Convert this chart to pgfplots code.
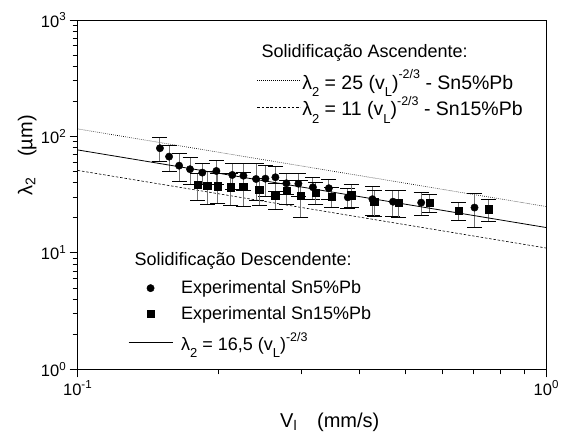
\documentclass[border=0pt]{standalone}
\usepackage{pgfplots}
\pgfplotsset{compat=1.18}
\usepackage{pgfplotstable}
\usepackage{fontspec}
\setmainfont{Liberation Sans}

\newcommand{\sub}[1]{\raisebox{-0.38em}{\fontsize{13}{13}\selectfont #1}}
\newcommand{\sups}[1]{\raisebox{0.52em}{\fontsize{12.5}{13}\selectfont #1}}

\pgfplotstableread{
x y e
0.1498 79.2 18
0.1567 67.1 17
0.1646 56.1 15
0.1737 52.3 14
0.1845 48.9 10
0.1977 50.5 12
0.2138 46.7 12
0.2258 46.0 12
0.2402 43.1 15
0.2515 43.4 13
0.2642 44.6 11
0.2789 39.6 8
0.2958 39.3 9
0.3177 36.6 8
0.3436 35.9 7
0.3772 30.0 6
0.4256 28.9 8
0.4708 27.5 7
0.5408 27.0 6
0.7029 24.5 8
}\snfive

\pgfplotstableread{
x y e
0.1804 38.3 10
0.1889 37.8 12
0.1991 37.3 11
0.2122 36.6 11
0.2254 36.9 12
0.2438 34.7 9
0.2638 31.4 8
0.2795 34.2 8
0.2994 31.0 11
0.3224 32.9 7
0.3486 30.4 6
0.3835 31.4 7
0.4292 27.4 7
0.4838 27.0 7
0.5646 27.0 5
0.6498 22.9 4
0.7528 23.7 5
}\snfifteen

\begin{document}
\begin{tikzpicture}
\path[use as bounding box] (-77.7pt,-64.7pt) rectangle (488.3pt,369.3pt);
% Ascending lines with their legend
\begin{axis}[at={(0pt,0pt)}, anchor=south west,
  scale only axis, width=468.6pt, height=349.3pt,
  xmode=log, ymode=log,
  xmin=0.1, xmax=1, ymin=1, ymax=1000,
  hide axis,
  legend style={draw=none, fill=none, at={(0.3826,0.862)}, anchor=north west,
    font=\fontsize{19.5}{22}\selectfont, inner xsep=0pt, inner ysep=0pt,
    row sep=3pt, nodes={inner sep=1.5pt}},
  legend cell align=left,
  legend image code/.code={\draw[#1] (0pt,0pt) -- (43pt,0pt);},
]
\addplot[black, line width=0.6pt, dash pattern=on 0.7pt off 1.3pt] coordinates {(0.1,116.04) (1,25)};
\addlegendentry{λ\sub{2} = 25 (v\sub{L})\sups{-2/3} - Sn5\%Pb}
\addplot[black, line width=0.6pt, dash pattern=on 2.5pt off 1.8pt] coordinates {(0.1,51.06) (1,11)};
\addlegendentry{λ\sub{2} = 11 (v\sub{L})\sups{-2/3} - Sn15\%Pb}
\end{axis}
% Main axis with data
\begin{axis}[at={(0pt,0pt)}, anchor=south west,
  scale only axis, width=468.6pt, height=349.3pt,
  xmode=log, ymode=log,
  xmin=0.1, xmax=1, ymin=1, ymax=1000,
  xtick={0.1,1}, ytick={1,10,100,1000},
  minor xtick={0.2,0.3,0.4,0.5,0.6,0.7,0.8,0.9},
  minor ytick={2,3,4,5,6,7,8,9,20,30,40,50,60,70,80,90,200,300,400,500,600,700,800,900},
  tick pos=left, tick align=outside,
  major tick length=8pt, minor tick length=5pt,
  axis line style={line width=0.8pt},
  every tick/.style={black, line width=0.8pt},
  xticklabels={10\textsuperscript{-1},10\textsuperscript{0}},
  yticklabels={10\textsuperscript{0},10\textsuperscript{1},10\textsuperscript{2},10\textsuperscript{3}},
  ticklabel style={font=\fontsize{16.5}{19}\selectfont},
  xlabel={V\textsubscript{l}\quad(mm/s)},
  ylabel={λ\textsubscript{2}\quad(µm)},
  label style={font=\fontsize{20}{23}\selectfont},
  xlabel style={at={(axis description cs:0.538,-0.151)}, anchor=center},
  ylabel style={at={(axis description cs:-0.108,0.613)}, anchor=center},
  legend style={draw=none, fill=none, at={(0.1073,0.258)}, anchor=north west,
    font=\fontsize{18}{21}\selectfont, inner xsep=0pt, inner ysep=0pt,
    row sep=8pt, nodes={inner sep=1.5pt}},
  legend cell align=left,
  legend image code/.code={\path[draw=none] (0pt,0pt) -- (51pt,0pt); \draw[mark repeat=2,mark phase=2,#1] plot coordinates {(0pt,0pt) (22pt,0pt) (44pt,0pt)};},
]
\addplot[forget plot, only marks, mark=*, mark size=3.7pt, black,
  error bars/.cd, y dir=both, y explicit,
  error bar style={black!55, line width=1pt},
  error mark options={rotate=90, black, line width=1pt, mark size=7.5pt}]
  table[x=x, y=y, y error=e] {\snfive};
\addplot[forget plot, only marks, mark=square*, mark size=3.7pt, black,
  error bars/.cd, y dir=both, y explicit,
  error bar style={black!55, line width=1pt},
  error mark options={rotate=90, black, line width=1pt, mark size=7.5pt}]
  table[x=x, y=y, y error=e] {\snfifteen};
\addplot[forget plot, black, line width=0.8pt, mark=none] coordinates {(0.1,76.58) (1,16.5)};
\addlegendimage{black, mark=*, mark size=3.7pt, draw opacity=0, mark options={draw opacity=1, draw=black, fill=black}}
\addlegendentry{Experimental Sn5\%Pb}
\addlegendimage{black, mark=square*, mark size=3.7pt, draw opacity=0, mark options={draw opacity=1, draw=black, fill=black}}
\addlegendentry{Experimental Sn15\%Pb}
\addlegendimage{black, line width=0.8pt, mark=none}
\addlegendentry{\rule{0pt}{15pt}λ\sub{2} = 16,5 (v\sub{L})\sups{-2/3}}
\end{axis}
\node[anchor=base west, font=\fontsize{18}{21}\selectfont] at (180.3pt,311.3pt) {Solidificação Ascendente:};
\node[anchor=base west, font=\fontsize{18}{21}\selectfont] at (53.3pt,104pt) {Solidificação Descendente:};
\end{tikzpicture}
\end{document}
